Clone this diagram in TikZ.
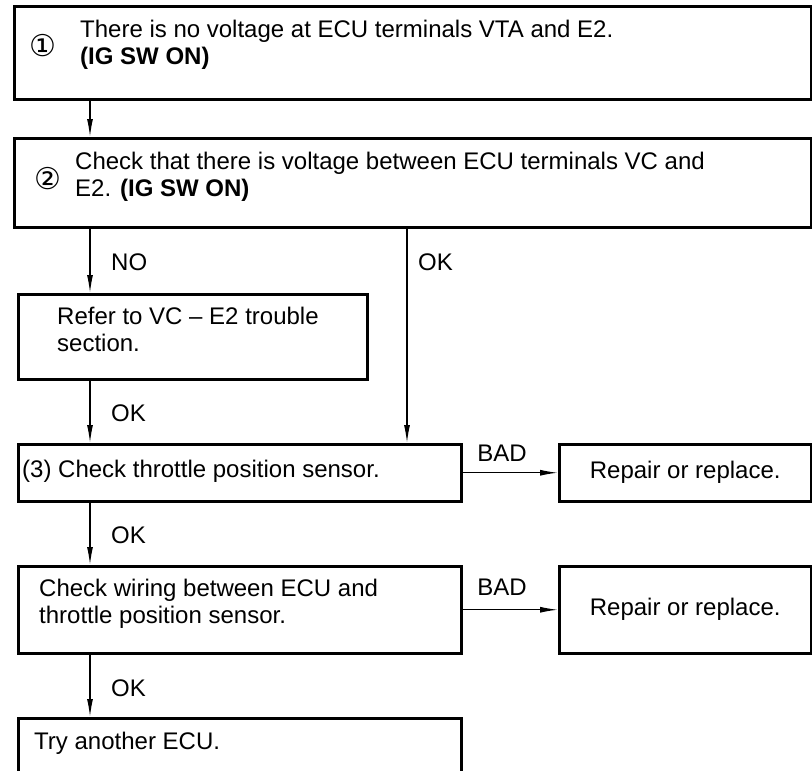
\documentclass[tikz,border=0pt]{standalone}
\usepackage{fontspec}
\setmainfont{Liberation Sans}
\newfontfamily\symfont{DejaVu Sans}
\usetikzlibrary{arrows.meta}
\begin{document}
\begin{tikzpicture}[x=1pt,y={(0pt,-1pt)},
  box/.style={draw, line width=2.5pt, rectangle, inner sep=0pt, anchor=north west, font=\fontsize{24}{27}\selectfont},
  txt/.style={inner sep=0pt, align=left, anchor=west, font=\fontsize{24}{27}\selectfont},
  lbl/.style={inner sep=0pt, anchor=west, font=\fontsize{24}{27}\selectfont},
  circ/.style={inner sep=0pt, font=\symfont\fontsize{30}{30}\selectfont},
  arr/.style={line width=1.3pt, -{Latex[length=18pt,width=6pt]}}]
\useasboundingbox (0,0) rectangle (812,771);
\clip (0,0) rectangle (812,771);
% boxes
\node[box, minimum width=797, minimum height=93] (b1) at (13,5) {};
\node[box, minimum width=797, minimum height=89] (b2) at (13,137) {};
\node[box, minimum width=349, minimum height=85] (b3) at (17,293) {};
\node[box, minimum width=443, minimum height=57] (b4) at (17,443) {};
\node[box, minimum width=252, minimum height=57] (r1) at (558,443) {Repair or replace.};
\node[box, minimum width=443, minimum height=87] (b5) at (17,565) {};
\node[box, minimum width=252, minimum height=87] (r2) at (558,565) {Repair or replace.};
\node[box, minimum width=443, minimum height=90] (b6) at (17,717) {};
% texts
\node[circ] (c1) at (43,46) {①};
\node[txt] (t1) at (80,45) {There is no voltage at ECU terminals VTA and E2.\\\textbf{(IG SW ON)}};
\node[circ] (c2) at (48,179) {②};
\node[txt] (t2) at (75,177) {Check that there is voltage between ECU terminals VC and\\E2. \textbf{(IG SW ON)}};
\node[txt] (t3) at (57,329) {Refer to VC – E2 trouble\\section.};
\node[txt] (t4) at (22,471) {(3) Check throttle position sensor.};
\node[txt] (t5) at (39,604) {Check wiring between ECU and\\throttle position sensor.};
\node[txt] (t6) at (34,743) {Try another ECU.};
% labels
\node[lbl] (lno) at (111,262) {NO};
\node[lbl] (lok1) at (418,262) {OK};
\node[lbl] (lok2) at (111,413) {OK};
\node[lbl] (lok3) at (111,535) {OK};
\node[lbl] (lok4) at (111,688) {OK};
\node[lbl, anchor=center] (lbad1) at (502,453) {BAD};
\node[lbl, anchor=center] (lbad2) at (502,587) {BAD};
% connectors
\coordinate (m) at (90,0);
\coordinate (k) at (407,0);
\draw[arr] (b1.south -| m) -- (b2.north -| m);
\draw[arr] (b2.south -| m) -- (b3.north -| m);
\draw[arr] (b2.south -| k) -- (b4.north -| k);
\draw[arr] (b3.south -| m) -- (b4.north -| m);
\draw[arr] (b4.south -| m) -- (b5.north -| m);
\draw[arr] (b5.south -| m) -- (b6.north -| m);
\draw[arr] (b4.east) -- (r1.west);
\draw[arr] (b5.east) -- (r2.west);
\end{tikzpicture}
\end{document}
